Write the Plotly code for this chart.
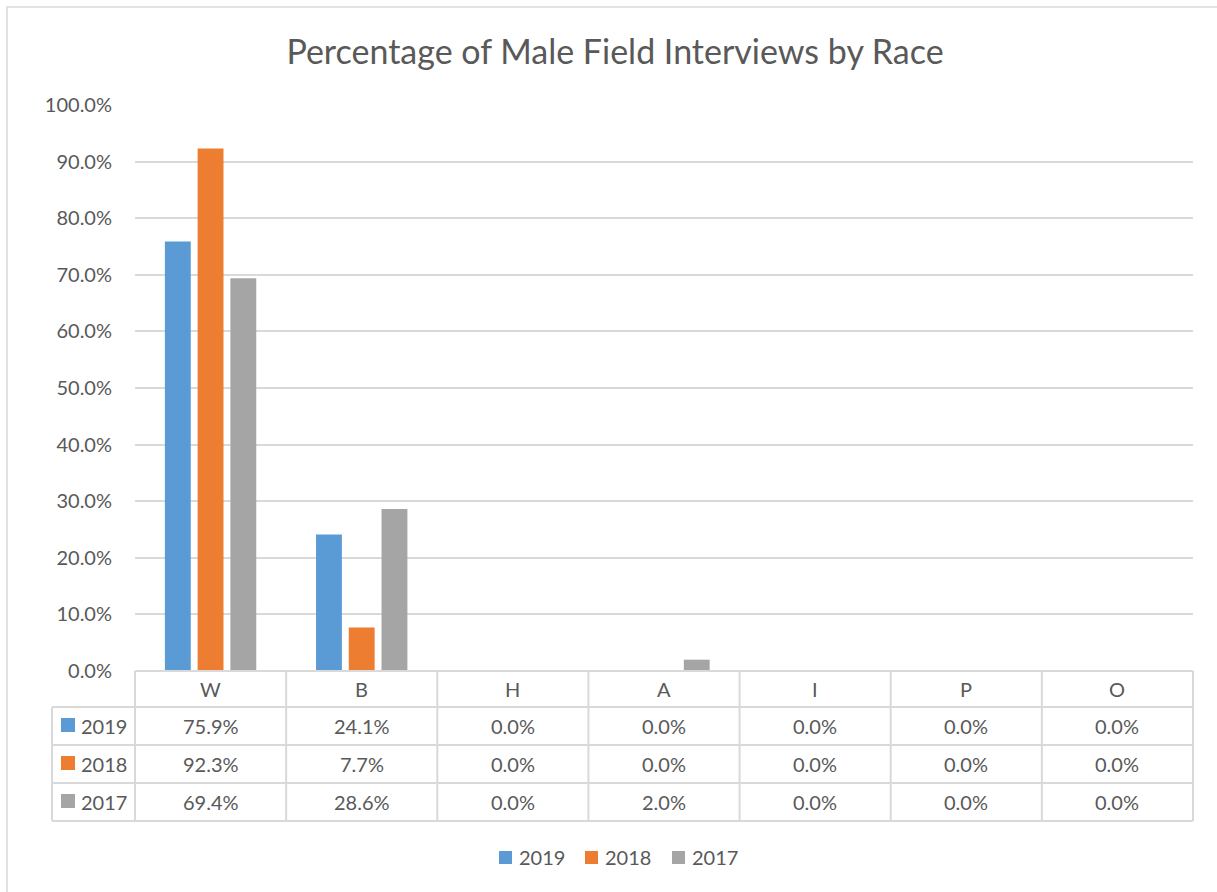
import plotly.graph_objects as go

# Data
races = ["W", "B", "H", "A", "I", "P", "O"]
years = ["2019", "2018", "2017"]
pct_2019 = [75.9, 24.1, 0.0, 0.0, 0.0, 0.0, 0.0]
pct_2018 = [92.3, 7.7, 0.0, 0.0, 0.0, 0.0, 0.0]
pct_2017 = [69.4, 28.6, 0.0, 2.0, 0.0, 0.0, 0.0]
y_ticks = [0, 10, 20, 30, 40, 50, 60, 70, 80, 90, 100]

series = [pct_2019, pct_2018, pct_2017]
colors = ["#5B9BD5", "#ED7D31", "#A5A5A5"]

W, H = 1217, 892
FONT = "Lato"
TXT = "#595959"
GRID = "#D9D9D9"
FS = 20

# plot area in pixels
px_l, px_r = 135, 1193
px_t, px_b = 105, 671
tbl_left = 52
row_edges = [671, 707, 745, 783, 821]
legend_keys_x = [499, 585, 672]
legend_y = 857


def fx(p):
    return p / W


def fy(p):
    return 1 - p / H


fig = go.Figure()
for name, vals, col in zip(years, series, colors):
    fig.add_trace(go.Bar(x=races, y=vals, name=name, marker_color=col,
                         marker_line_width=0, showlegend=False))

shapes = []
annotations = []

# outer chart border
shapes.append(dict(type="rect", xref="paper", yref="paper",
                   x0=fx(7), x1=fx(1230), y0=fy(905), y1=fy(7),
                   line=dict(color=GRID, width=1.5), layer="below"))

# data table grid
ncat = len(races)
cw = (px_r - px_l) / ncat
shapes.append(dict(type="line", xref="paper", yref="paper",
                   x0=fx(px_l), x1=fx(px_r), y0=fy(row_edges[0]), y1=fy(row_edges[0]),
                   line=dict(color=GRID, width=2)))
for r in row_edges[1:]:
    shapes.append(dict(type="line", xref="paper", yref="paper",
                       x0=fx(tbl_left), x1=fx(px_r), y0=fy(r), y1=fy(r),
                       line=dict(color=GRID, width=2)))
for k in range(ncat + 1):
    xx = px_l + k * cw
    shapes.append(dict(type="line", xref="paper", yref="paper",
                       x0=fx(xx), x1=fx(xx), y0=fy(row_edges[-1]), y1=fy(row_edges[0]),
                       line=dict(color=GRID, width=2)))
shapes.append(dict(type="line", xref="paper", yref="paper",
                   x0=fx(tbl_left), x1=fx(tbl_left), y0=fy(row_edges[-1]), y1=fy(row_edges[1]),
                   line=dict(color=GRID, width=2)))

# header row: category names
for k, cat in enumerate(races):
    annotations.append(dict(xref="paper", yref="paper",
                            x=fx(px_l + (k + 0.5) * cw),
                            y=fy((row_edges[0] + row_edges[1]) / 2),
                            text=cat, showarrow=False,
                            font=dict(family=FONT, size=FS, color=TXT),
                            xanchor="center", yanchor="middle"))

# value rows with legend keys
for i, (name, vals, col) in enumerate(zip(years, series, colors)):
    yc = (row_edges[i + 1] + row_edges[i + 2]) / 2
    shapes.append(dict(type="rect", xref="paper", yref="paper",
                       x0=fx(61), x1=fx(75), y0=fy(yc + 6), y1=fy(yc - 8),
                       fillcolor=col, line=dict(width=0)))
    annotations.append(dict(xref="paper", yref="paper", x=fx(79), y=fy(yc),
                            text=name, showarrow=False,
                            font=dict(family=FONT, size=FS, color=TXT),
                            xanchor="left", yanchor="middle"))
    for k, v in enumerate(vals):
        annotations.append(dict(xref="paper", yref="paper",
                                x=fx(px_l + (k + 0.5) * cw), y=fy(yc),
                                text=f"{v:.1f}%", showarrow=False,
                                font=dict(family=FONT, size=FS, color=TXT),
                                xanchor="center", yanchor="middle"))

# bottom legend
for name, col, kx in zip(years, colors, legend_keys_x):
    shapes.append(dict(type="rect", xref="paper", yref="paper",
                       x0=fx(kx), x1=fx(kx + 13), y0=fy(legend_y + 7), y1=fy(legend_y - 6),
                       fillcolor=col, line=dict(width=0)))
    annotations.append(dict(xref="paper", yref="paper", x=fx(kx + 18), y=fy(legend_y),
                            text=name, showarrow=False,
                            font=dict(family=FONT, size=FS, color=TXT),
                            xanchor="left", yanchor="middle"))

fig.update_layout(
    width=W, height=H,
    margin=dict(l=0, r=0, t=0, b=0, autoexpand=False),
    paper_bgcolor="white", plot_bgcolor="white",
    font=dict(family=FONT, color=TXT),
    title=dict(text="Percentage of Male Field Interviews by Race",
               x=615 / W, xanchor="center", y=fy(52), yanchor="middle",
               font=dict(family=FONT, size=34, color=TXT)),
    barmode="group", bargap=0.35, bargroupgap=0.21,
    showlegend=False,
    shapes=shapes, annotations=annotations,
    xaxis=dict(domain=[fx(px_l), fx(px_r)], showticklabels=False,
               showline=False, showgrid=False, ticks="", automargin=False),
    yaxis=dict(domain=[fy(px_b), fy(px_t)], range=[0, 100],
               tickvals=y_ticks, ticktext=[f"{t:.1f}%" for t in y_ticks],
               showgrid=True, gridcolor=GRID, gridwidth=1.5,
               zeroline=False, showline=False, automargin=False,
               ticklabelstandoff=22,
               tickfont=dict(family=FONT, size=FS, color=TXT)),
)

fig.write_html("out.html")
